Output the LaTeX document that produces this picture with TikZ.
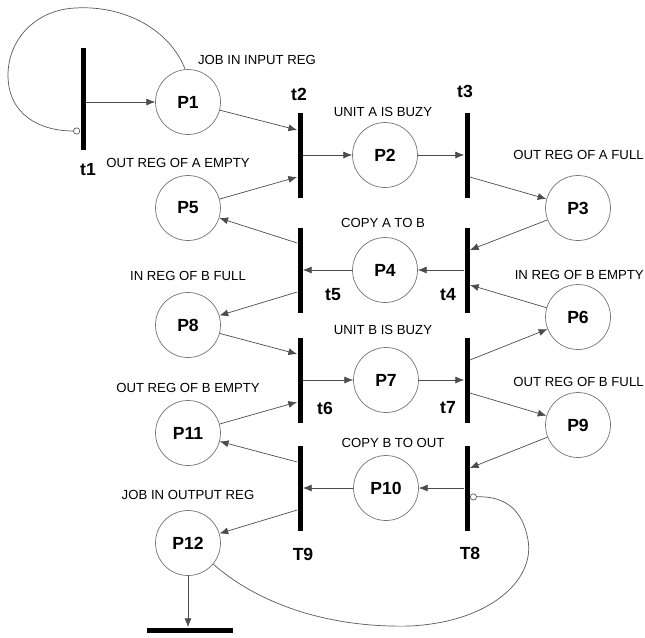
\documentclass[tikz,border=0pt]{standalone}
\usepackage{fontspec}
\setmainfont{Liberation Sans}
\usepackage{tikz}
\usetikzlibrary{arrows.meta}

\begin{document}
\begin{tikzpicture}[x=0.02cm, y=-0.02cm,
		place/.style={circle, draw=black!55, thin, minimum size=1.3cm, inner sep=0pt, font=\bfseries\fontsize{10}{12}\selectfont},
		trans/.style={rectangle, fill=black, inner sep=0pt, minimum width=0.1cm, minimum height=1.7cm},
		tlabel/.style={font=\bfseries\fontsize{10}{12}\selectfont},
		plabel/.style={font=\fontsize{7.5}{9}\selectfont, inner sep=0pt},
		arc/.style={draw=black!70, thin, -{Latex[length=5pt,width=4pt]}},
		inhib/.style={draw=black!65, thin, -{Circle[open,length=4pt]}}]
	\useasboundingbox (0,0) rectangle (645,637);
	\node[place] (P1) at (188,102) {P1};
	\node[place] (P2) at (385,155) {P2};
	\node[place] (P3) at (578,208) {P3};
	\node[place] (P4) at (385,270) {P4};
	\node[place] (P5) at (188,208) {P5};
	\node[place] (P6) at (578,317) {P6};
	\node[place] (P7) at (386,380) {P7};
	\node[place] (P8) at (188,325) {P8};
	\node[place] (P9) at (578,425) {P9};
	\node[place] (P10) at (386,488) {P10};
	\node[place] (P11) at (188,433) {P11};
	\node[place] (P12) at (188,543) {P12};
	\node[trans, minimum height=2.04cm] (t1) at (83,99) {};
	\node[trans] (t2) at (300,155) {};
	\node[trans] (t3) at (467,155) {};
	\node[trans] (t5) at (300,270) {};
	\node[trans] (t4) at (467,270) {};
	\node[trans] (t6) at (300,380) {};
	\node[trans] (t7) at (467,380) {};
	\node[trans] (T9) at (300,488) {};
	\node[trans] (T8) at (467,488) {};
	\node[trans, minimum width=1.72cm, minimum height=0.1cm] (tout) at (190,630) {};
	\node[tlabel] (lt1) at (88,170) {t1};
	\node[tlabel] (lt2) at (299,94) {t2};
	\node[tlabel] (lt3) at (465,91) {t3};
	\node[tlabel] (lt5) at (333,295) {t5};
	\node[tlabel] (lt4) at (448,295) {t4};
	\node[tlabel] (lt6) at (325,408) {t6};
	\node[tlabel] (lt7) at (448,408) {t7};
	\node[tlabel] (lT9) at (303,554) {T9};
	\node[tlabel] (lT8) at (470,553) {T8};
	\node[plabel] (lP1) at (257,60) {JOB IN INPUT REG};
	\node[plabel] (lP5) at (178,163) {OUT REG OF A EMPTY};
	\node[plabel] (lP2) at (383,112) {UNIT A IS BUZY};
	\node[plabel, anchor=east] (lP3) at (644,155) {OUT REG OF A FULL};
	\node[plabel] (lP4) at (383,223) {COPY A TO B};
	\node[plabel, anchor=east] (lP6) at (644,275) {IN REG OF B EMPTY};
	\node[plabel] (lP8) at (188,276) {IN REG OF B FULL};
	\node[plabel] (lP7) at (383,330) {UNIT B IS BUZY};
	\node[plabel, anchor=east] (lP9) at (644,382) {OUT REG OF B FULL};
	\node[plabel] (lP11) at (188,388) {OUT REG OF B EMPTY};
	\node[plabel] (lP10) at (393,443) {COPY B TO OUT};
	\node[plabel] (lP12) at (188,495) {JOB IN OUTPUT REG};
	\draw[arc] (t1.east |- P1) -- (P1);
	\draw[arc] (P1) -- ([yshift=0.5cm]t2.west);
	\draw[arc] (P5) -- ([yshift=-0.44cm]t2.west);
	\draw[arc] (t2.east) -- (P2);
	\draw[arc] (P2) -- (t3.west);
	\draw[arc] ([yshift=-0.44cm]t3.east) -- (P3);
	\draw[arc] (P3) -- ([yshift=0.4cm]t4.east);
	\draw[arc] (P6) -- ([yshift=-0.3cm]t4.east);
	\draw[arc] (t4.west) -- (P4);
	\draw[arc] (P4) -- (t5.east);
	\draw[arc] ([yshift=0.54cm]t5.west) -- (P5);
	\draw[arc] ([yshift=-0.44cm]t5.west) -- (P8);
	\draw[arc] (P8) -- ([yshift=0.52cm]t6.west);
	\draw[arc] (P11) -- ([yshift=-0.44cm]t6.west);
	\draw[arc] (t6.east) -- (P7);
	\draw[arc] (P7) -- (t7.west);
	\draw[arc] ([yshift=0.4cm]t7.east) -- (P6);
	\draw[arc] ([yshift=-0.26cm]t7.east) -- (P9);
	\draw[arc] (P9) -- ([yshift=0.4cm]T8.east);
	\draw[arc] (T8.west) -- (P10);
	\draw[arc] (P10) -- (T9.east);
	\draw[arc] ([yshift=0.52cm]T9.west) -- (P11);
	\draw[arc] ([yshift=-0.44cm]T9.west) -- (P12);
	\draw[arc] (P12) -- (P12 |- tout.north);
	\draw[inhib] (P1.95) .. controls (170,30) and (125,5) .. (75,8)
		.. controls (35,10) and (8,40) .. (8,75)
		.. controls (8,115) and (40,131) .. ([yshift=-0.64cm]t1.west);
	\draw[inhib] (P12.-40) .. controls (260,605) and (330,628) .. (410,626)
		.. controls (490,622) and (535,580) .. (528,540)
		.. controls (522,505) and (500,496) .. ([yshift=-0.18cm]T8.east);
\end{tikzpicture}
\end{document}
